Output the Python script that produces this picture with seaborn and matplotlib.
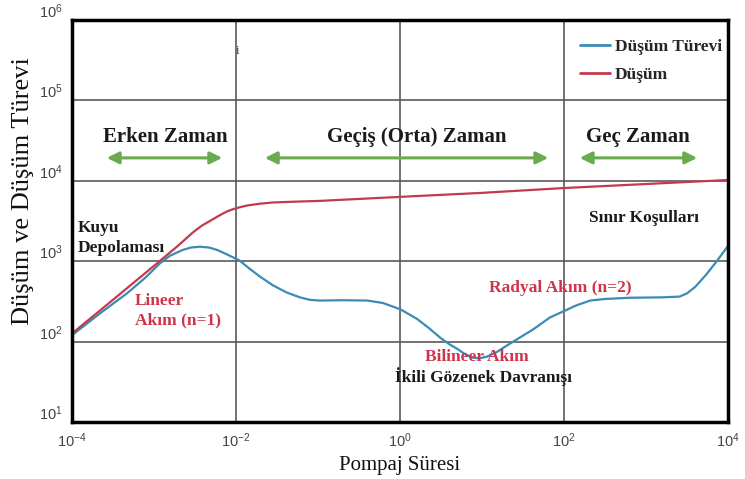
import numpy as np
import pandas as pd
import matplotlib
matplotlib.use("Agg")
import matplotlib.pyplot as plt
import matplotlib.transforms as mtransforms
import seaborn as sns

# ---- data ----
series_names = ["Düşüm Türevi", "Düşüm"]

deriv_time = [1e-4, 2.19e-4, 4.68e-4, 7.94e-4, 1.17e-3, 1.58e-3, 2.24e-3, 2.82e-3,
              3.63e-3, 4.68e-3, 5.89e-3, 7.94e-3, 1.10e-2, 1.45e-2, 1.95e-2, 2.82e-2,
              4.17e-2, 6.03e-2, 7.94e-2, 0.105, 0.20, 0.40, 0.62, 1.02, 1.62, 2.24,
              3.09, 3.98, 5.01, 6.31, 7.76, 9.33, 11.5, 15.1, 20.0, 28.8, 41.7, 67.6,
              105, 141, 209, 316, 631, 1585, 2570, 3162, 3981, 5495, 7413, 1e4]
deriv_vals = [120, 224, 398, 631, 933, 1175, 1380, 1479,
              1514, 1479, 1380, 1202, 1023, 813, 646, 501,
              407, 355, 331, 324, 327, 324, 302, 251, 191, 148,
              112, 93, 81, 69, 63, 62, 65, 74, 89, 112, 141, 200,
              245, 282, 324, 339, 351, 355, 363, 398, 479, 692, 1023, 1549]

draw_time = [1e-4, 3.16e-4, 1.17e-3, 1.9e-3, 3.0e-3, 3.8e-3, 4.8e-3, 6.3e-3,
             7.8e-3, 9.1e-3, 1.1e-2, 1.41e-2, 1.95e-2, 2.8e-2, 5.0e-2, 0.105,
             1, 10, 100, 1000, 1e4]
draw_vals = [126, 331, 1000, 1514, 2291, 2754, 3162, 3715,
             4169, 4416, 4677, 4955, 5188, 5370, 5495, 5623,
             6310, 7079, 8128, 9120, 10233]

x_ticks = [1e-4, 1e-2, 1e0, 1e2, 1e4]
y_ticks = [1e1, 1e2, 1e3, 1e4, 1e5, 1e6]

colors = {"Düşüm Türevi": "#3b8bb5", "Düşüm": "#c43a4d"}

df = pd.concat([
    pd.DataFrame({"t": deriv_time, "v": deriv_vals, "s": series_names[0]}),
    pd.DataFrame({"t": draw_time, "v": draw_vals, "s": series_names[1]}),
], ignore_index=True)

sns.set_theme(style="white")
plt.rcParams["font.family"] = ["Liberation Serif", "DejaVu Serif"]
plt.rcParams["mathtext.fontset"] = "custom"
plt.rcParams["mathtext.rm"] = "Liberation Sans"
plt.rcParams["mathtext.it"] = "Liberation Sans:italic"
plt.rcParams["mathtext.bf"] = "Liberation Sans:bold"

fig = plt.figure(figsize=(7.45, 4.79), dpi=100)
ax = fig.add_axes([72 / 745, 1 - 422 / 479, 656 / 745, 402 / 479])
ax.set_xscale("log")
ax.set_yscale("log")

sns.lineplot(data=df, x="t", y="v", hue="s", hue_order=series_names,
             palette=colors, sort=False, linewidth=1.6, ax=ax, estimator=None)

ax.set_xlim(1e-4, 1e4)
ax.set_ylim(1e1, 1e6)
ax.set_xticks(x_ticks)
ax.set_yticks(y_ticks)
ax.minorticks_off()
ax.grid(True, which="major", color="#5a5a5a", linewidth=1.2)
ax.tick_params(length=0, pad=7, labelsize=10.5, labelcolor="#444444")
for lab in ax.get_xticklabels() + ax.get_yticklabels():
    lab.set_fontfamily("Liberation Sans")
offset = mtransforms.ScaledTranslation(0, 7 / 72, fig.dpi_scale_trans)
for lab in ax.get_yticklabels():
    lab.set_transform(lab.get_transform() + offset)

for sp in ax.spines.values():
    sp.set_color("black")
    sp.set_linewidth(2.5)

ax.set_xlabel("Pompaj Süresi", fontsize=15, color="#111111", labelpad=4)
ax.set_ylabel("Düşüm ve Düşüm Türevi", fontsize=19, color="#111111")
ax.yaxis.set_label_coords(-0.058, 0.575)

leg = ax.legend(loc="upper right", bbox_to_anchor=(1.015, 0.993), frameon=False,
                handlelength=1.7, handletextpad=0.3, labelspacing=0.7,
                prop={"family": "Liberation Serif", "weight": "bold", "size": 12.5})
for line in leg.get_lines():
    line.set_linewidth(2)

# ---- annotations ----
T = ax.transAxes
bold = dict(fontweight="bold", family="Liberation Serif")
ax.text(0.142, 0.709, "Erken Zaman", transform=T, ha="center", va="center",
        fontsize=15, color="#1a1a1a", **bold)
ax.text(0.526, 0.709, "Geçiş (Orta) Zaman", transform=T, ha="center", va="center",
        fontsize=15, color="#1a1a1a", **bold)
ax.text(0.863, 0.709, "Geç Zaman", transform=T, ha="center", va="center",
        fontsize=15, color="#1a1a1a", **bold)
arrow_kw = dict(arrowstyle="<|-|>,head_length=0.6,head_width=0.3", color="#6aab4f", lw=2.2,
                shrinkA=0, shrinkB=0)
for x0, x1 in [(0.053, 0.229), (0.294, 0.726), (0.774, 0.953)]:
    ax.annotate("", xy=(x1, 0.657), xytext=(x0, 0.657), xycoords=T, textcoords=T,
                arrowprops=arrow_kw)

ax.text(0.009, 0.457, "Kuyu\nDepolaması", transform=T, ha="left", va="center",
        fontsize=12.5, color="#1a1a1a", linespacing=1.35, **bold)
ax.text(0.872, 0.507, "Sınır Koşulları", transform=T, ha="center", va="center",
        fontsize=12.5, color="#1a1a1a", **bold)
ax.text(0.096, 0.277, "Lineer\nAkım (n=1)", transform=T, ha="left", va="center",
        fontsize=12.5, color="#d0344a", linespacing=1.3, **bold)
ax.text(0.744, 0.333, "Radyal Akım (n=2)", transform=T, ha="center", va="center",
        fontsize=12.5, color="#d0344a", **bold)
ax.text(0.617, 0.162, "Bilineer Akım", transform=T, ha="center", va="center",
        fontsize=12.5, color="#d0344a", **bold)
ax.text(0.628, 0.112, "İkili Gözenek Davranışı", transform=T, ha="center", va="center",
        fontsize=12.5, color="#1a1a1a", **bold)
ax.text(0.253, 0.923, "i", transform=T, ha="center", va="center",
        fontsize=9, color="#333333")

fig.savefig("out.png", dpi=100)
